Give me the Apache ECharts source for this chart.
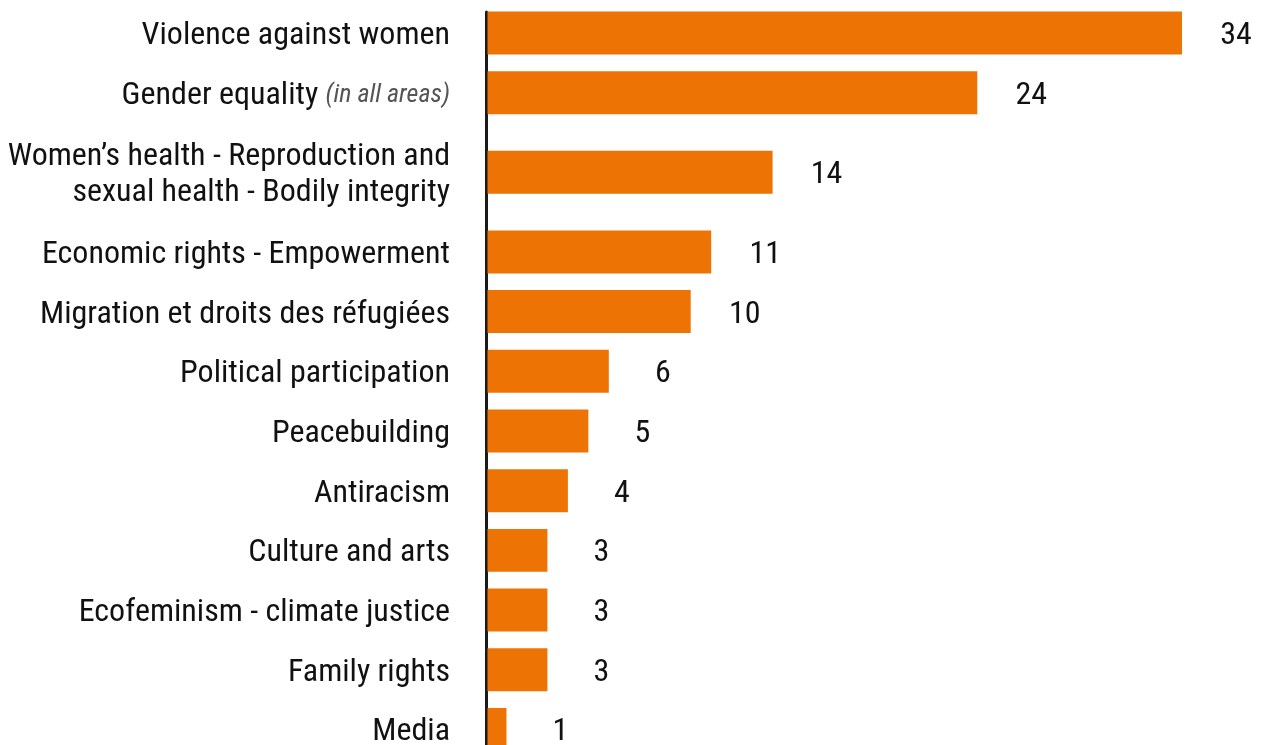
<!DOCTYPE html>
<html>
<head>
<meta charset="utf-8">
<script src="https://cdn.jsdelivr.net/npm/echarts@6/dist/echarts.min.js"></script>
<style>
html,body{margin:0;padding:0;background:#fff;}
#chart{width:1262px;height:745px;}
</style>
</head>
<body>
<div id="chart"></div>
<script>
// ---- data ----
const categories = [
  'Violence against women',
  'Gender equality',
  'Women\u2019s health - Reproduction and\nsexual health - Bodily integrity',
  'Economic rights - Empowerment',
  'Migration et droits des r\u00e9fugi\u00e9es',
  'Political participation',
  'Peacebuilding',
  'Antiracism',
  'Culture and arts',
  'Ecofeminism - climate justice',
  'Family rights',
  'Media'
];
const notes = ['', '(in all areas)', '', '', '', '', '', '', '', '', '', ''];
const values = [34, 24, 14, 11, 10, 6, 5, 4, 3, 3, 3, 1];

// ---- layout (row slots from number of label lines) ----
const FONT = "'Roboto Condensed', 'Liberation Sans Narrow', Roboto, sans-serif";
const COLOR = '#ED7304';
const BAR_UNITS = 2.16;
const heights = categories.map(c => c.split('\n').length === 1 ? 3 : 5);
const positions = [];
heights.forEach((h, i) => {
  positions.push(i === 0 ? 0 : positions[i - 1] + (heights[i - 1] + h) / 2);
});
const seriesData = values.map((v, i) => [v, positions[i], i]);

const chart = echarts.init(document.getElementById('chart'), null, {renderer: 'canvas'});
chart.setOption({
  animation: false,
  backgroundColor: '#fff',
  grid: {left: 486, right: 80, top: 12, bottom: 0, containLabel: false},
  xAxis: {
    type: 'value', min: 0, max: 34, show: false
  },
  yAxis: {
    type: 'value', inverse: true, min: -1.055, max: 35.78,
    axisLine: {show: true, onZero: false, lineStyle: {color: '#1a1a1a', width: 3}},
    axisTick: {show: false}, axisLabel: {show: false}, splitLine: {show: false}
  },
  series: [{
    type: 'custom',
    clip: false,
    data: seriesData,
    encode: {x: 0, y: 1},
    renderItem: function (params, api) {
      const v = api.value(0), p = api.value(1), i = api.value(2);
      const start = api.coord([0, p]);
      const end = api.coord([v, p]);
      const h = api.size([0, BAR_UNITS])[1];
      const note = notes[i];
      const labelText = note ? categories[i] + ' {n|' + note + '}' : categories[i];
      return {
        type: 'group',
        children: [
          {
            type: 'rect',
            shape: {x: start[0] + 1.5, y: start[1] - h / 2, width: end[0] - start[0] - 1.5, height: h},
            style: {fill: COLOR}
          },
          {
            type: 'text',
            style: {
              text: String(v), x: end[0] + 54, y: end[1] + 3,
              align: 'center', verticalAlign: 'middle',
              fontFamily: FONT, fontSize: 32, fill: '#111'
            }
          },
          {
            type: 'text',
            style: {
              text: labelText, x: start[0] - 36, y: start[1] + 3,
              align: 'right', verticalAlign: 'middle',
              fontFamily: FONT, fontSize: 32, lineHeight: 36, fill: '#111',
              rich: {
                n: {fontFamily: FONT, fontSize: 26, fontStyle: 'italic', fill: '#555', lineHeight: 36}
              }
            }
          }
        ]
      };
    }
  }]
});
</script>
</body>
</html>
